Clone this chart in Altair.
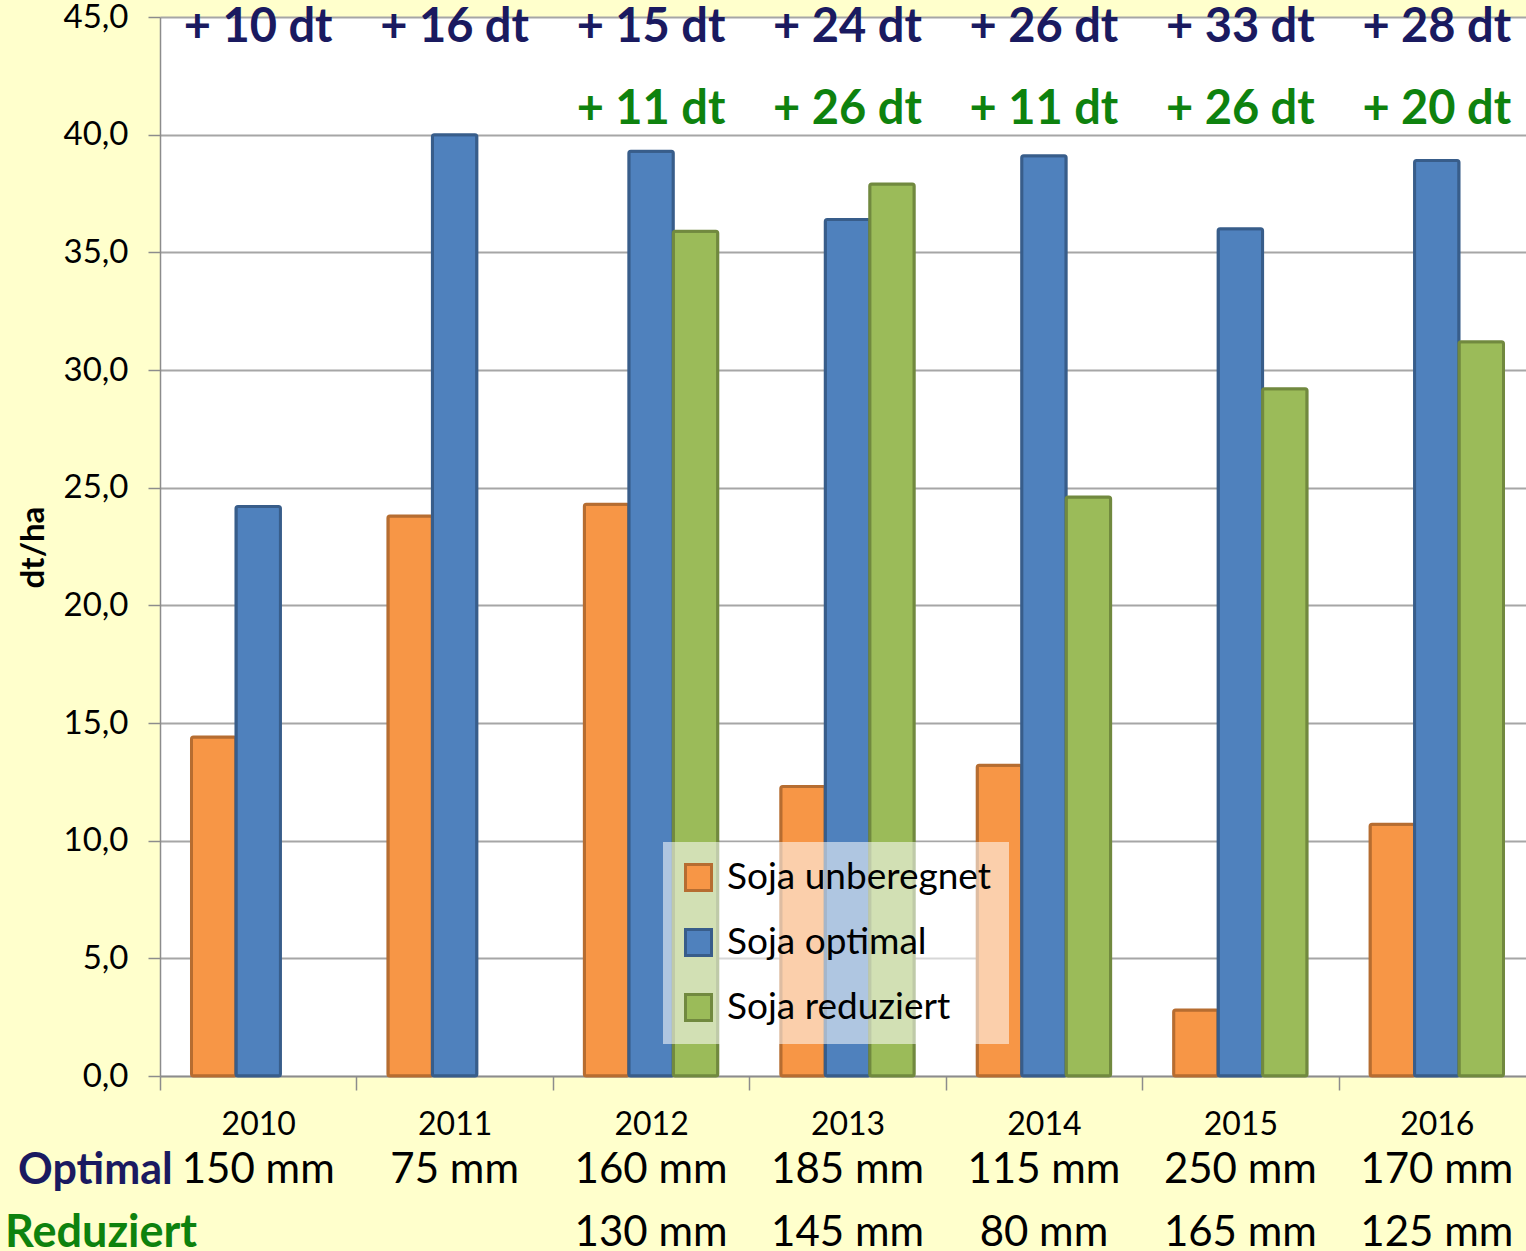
import altair as alt
import pandas as pd

# Soybean yields (dt/ha) per year and irrigation variant
years = ["2010", "2011", "2012", "2013", "2014", "2015", "2016"]
unberegnet = [14.4, 23.8, 24.3, 12.3, 13.2, 2.8, 10.7]
optimal = [24.2, 40.0, 39.3, 36.4, 39.1, 36.0, 38.9]
reduziert = [None, None, 35.9, 37.9, 24.6, 29.2, 31.2]

# Yield gain over the non-irrigated plot
gain_optimal = ["+ 10 dt", "+ 16 dt", "+ 15 dt", "+ 24 dt", "+ 26 dt", "+ 33 dt", "+ 28 dt"]
gain_reduziert = ["", "", "+ 11 dt", "+ 26 dt", "+ 11 dt", "+ 26 dt", "+ 20 dt"]

# Irrigation water applied
water_optimal = ["150 mm", "75 mm", "160 mm", "185 mm", "115 mm", "250 mm", "170 mm"]
water_reduziert = ["", "", "130 mm", "145 mm", "80 mm", "165 mm", "125 mm"]

series = ["Soja unberegnet", "Soja optimal", "Soja reduziert"]
fills = ["#F79646", "#4F81BD", "#9BBB59"]
strokes = ["#B66D31", "#385D8A", "#71893F"]

NAVY = "#1A1A60"
GREEN = "#0E820E"
FONT = "Lato"

rows = []
for name, vals in zip(series, [unberegnet, optimal, reduziert]):
    for y, v in zip(years, vals):
        if v is not None:
            rows.append({"Jahr": y, "Variante": name, "Ertrag": v})
bars_df = pd.DataFrame(rows)

labels_df = pd.DataFrame({
    "Jahr": years,
    "gain_opt": gain_optimal,
    "gain_red": gain_reduziert,
    "w_opt": water_optimal,
    "w_red": water_reduziert,
})

x_enc = alt.X(
    "Jahr:N",
    sort=years,
    scale=alt.Scale(domain=years, range=[0, 1375], paddingInner=0, paddingOuter=0),
    axis=alt.Axis(
        title=None,
        labelAngle=0,
        labelFont=FONT,
        labelFontSize=32,
        labelColor="black",
        labelPadding=19,
        tickBand="extent",
        tickSize=14,
        tickColor="#8C8C8C",
        tickWidth=1.5,
        domainColor="#8C8C8C",
        domainWidth=1.5,
        grid=False,
    ),
)

bars = alt.Chart(bars_df).mark_bar(strokeWidth=3, cornerRadius=2).encode(
    x=x_enc,
    xOffset=alt.XOffset(
        "Variante:N",
        sort=series,
        scale=alt.Scale(domain=series, paddingInner=0, paddingOuter=0.708),
    ),
    y=alt.Y(
        "Ertrag:Q",
        scale=alt.Scale(domain=[0, 45], nice=False),
        axis=alt.Axis(
            title="dt/ha",
            titleFont=FONT,
            titleFontSize=33,
            titleFontWeight="bold",
            titleColor="black",
            titleX=-127,
            titleY=530,
            titleBaseline="middle",
            values=list(range(0, 46, 5)),
            labelExpr="replace(format(datum.value, '.1f'), '.', ',')",
            labelFont=FONT,
            labelFontSize=33,
            labelColor="black",
            labelPadding=20,
            tickSize=12,
            tickColor="#8C8C8C",
            tickWidth=1.5,
            domainColor="#8C8C8C",
            domainWidth=1.5,
            gridColor="#A6A6A6",
            gridWidth=2,
        ),
    ),
    color=alt.Color(
        "Variante:N",
        sort=series,
        scale=alt.Scale(domain=series, range=fills),
        legend=alt.Legend(
            title=None,
            orient="none",
            legendX=503,
            legendY=825,
            fillColor="rgba(255,255,255,0.55)",
            padding=17,
            symbolType="square",
            symbolSize=676,
            symbolStrokeWidth=3,
            labelFont=FONT,
            labelFontSize=37,
            labelLimit=0,
            labelColor="black",
            labelOffset=10,
            rowPadding=26,
        ),
    ),
    stroke=alt.Stroke(
        "Variante:N",
        sort=series,
        scale=alt.Scale(domain=series, range=strokes),
        legend=alt.Legend(title=None),
    ),
)

base = alt.Chart(labels_df).encode(x=alt.X("Jahr:N", sort=years))

top_opt = base.mark_text(font=FONT, fontSize=47, fontWeight="bold", color=NAVY,
                         baseline="middle").encode(text="gain_opt:N", y=alt.value(11))
top_red = base.mark_text(font=FONT, fontSize=47, fontWeight="bold", color=GREEN,
                         baseline="middle").encode(text="gain_red:N", y=alt.value(93))
mm_opt = base.mark_text(font=FONT, fontSize=42, color="black",
                        baseline="middle").encode(text="w_opt:N", y=alt.value(1153))
mm_red = base.mark_text(font=FONT, fontSize=42, color="black",
                        baseline="middle").encode(text="w_red:N", y=alt.value(1216))

row_opt = alt.Chart(pd.DataFrame({"t": ["Optimal"]})).mark_text(
    font=FONT, fontSize=43, fontWeight="bold", color=NAVY, align="left", baseline="middle"
).encode(text="t:N", x=alt.value(-142), y=alt.value(1154))
row_red = alt.Chart(pd.DataFrame({"t": ["Reduziert"]})).mark_text(
    font=FONT, fontSize=45, fontWeight="bold", color=GREEN, align="left", baseline="middle"
).encode(text="t:N", x=alt.value(-155), y=alt.value(1216))

chart = alt.layer(bars, top_opt, top_red, mm_opt, mm_red, row_opt, row_red).properties(
    width=1366,
    height=1059,
    autosize=alt.AutoSizeParams(type="none"),
    padding={"left": 160, "top": 17, "right": 0, "bottom": 175},
    background="#FFFFCC",
).configure_view(
    fill="white",
    stroke=None,
    strokeWidth=0,
)

chart.save("out.html", embed_options={"renderer": "svg", "actions": False})
